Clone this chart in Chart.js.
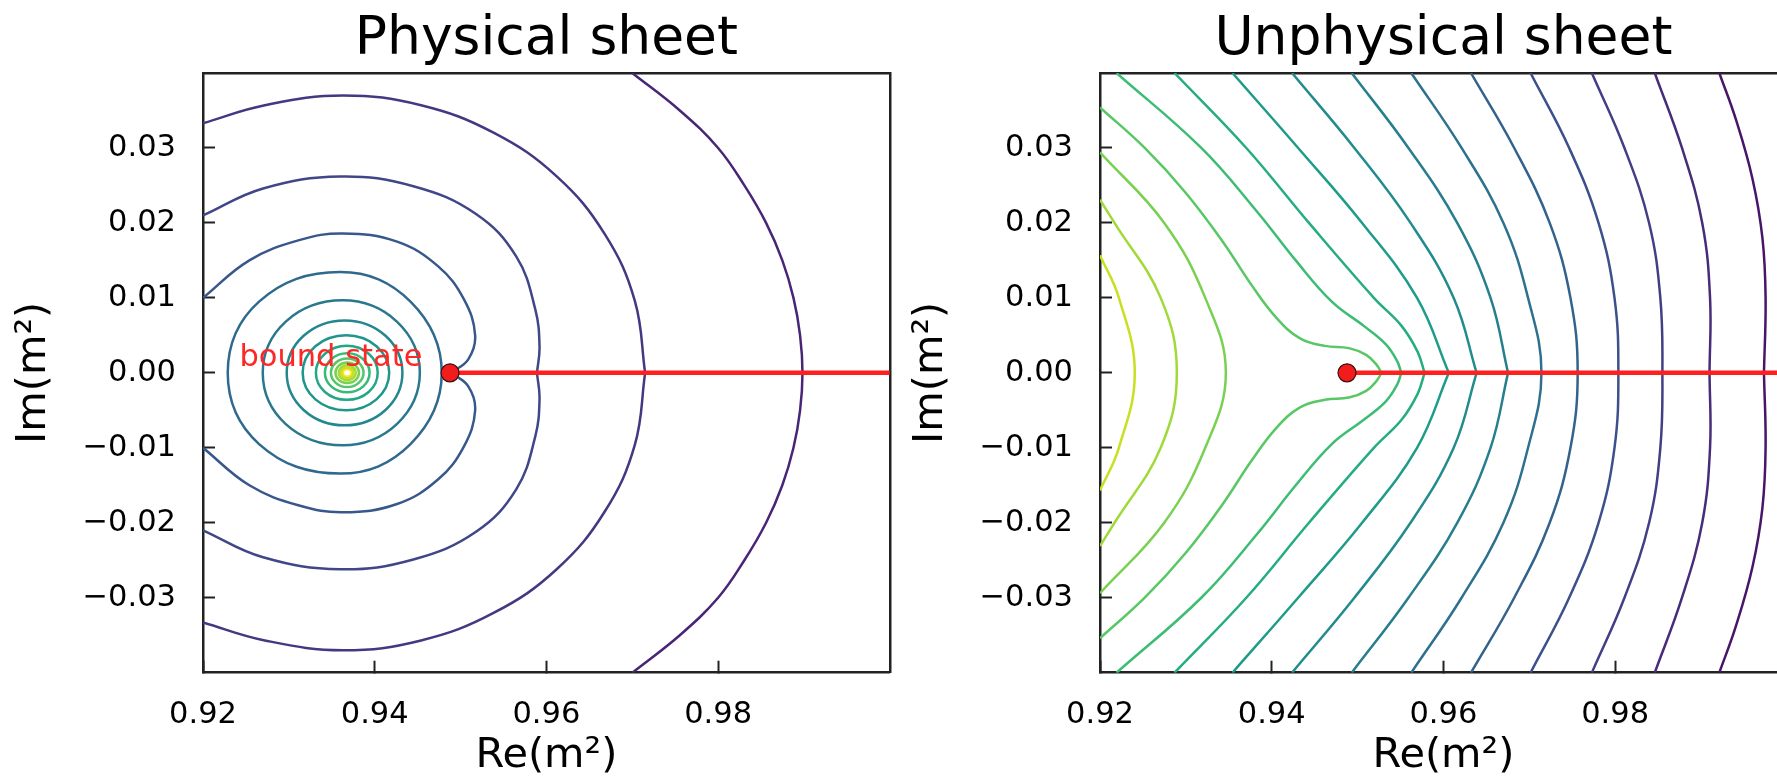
<!DOCTYPE html>
<html>
<head>
<meta charset="utf-8">
<script src="https://cdn.jsdelivr.net/npm/chart.js@4.4.1/dist/chart.umd.min.js"></script>
<style>
  html, body { margin: 0; padding: 0; background: #fff; overflow: hidden; }
  .panel { position: absolute; top: 0; width: 900px; height: 777px; }
  #physPanel { left: 0; }
  #unphysPanel { left: 897px; }
</style>
</head>
<body>
<div class="panel" id="physPanel"><canvas id="physChart" width="900" height="777"></canvas></div>
<div class="panel" id="unphysPanel"><canvas id="unphysChart" width="900" height="777"></canvas></div>
<script>
const xTicks = [0.92, 0.94, 0.96, 0.98];
const yTicks = [-0.03, -0.02, -0.01, 0, 0.01, 0.02, 0.03];
const threshold = 0.94877;
const boundLabel = { text: "bound state", x: 0.92424, y: 0.0009 };

// physical sheet: outer contour, top edge -> real axis (upper half)
const physOuter = [[0.9700, 0.040], [0.97554, 0.035], [0.9800, 0.030], [0.98306, 0.025], [0.98559, 0.020], [0.98748, 0.015], [0.98878, 0.010], [0.98955, 0.005], [0.98983, 0]];
// physical sheet: contours leaving through the left edge (upper halves)
const physSide = [
  [[0.92, 0.0333], [0.9272, 0.0357], [0.9363, 0.0370], [0.9454, 0.0357], [0.9539, 0.0320], [0.9612, 0.0262], [0.9668, 0.0185], [0.9703, 0.0096], [0.9715, 0]],
  [[0.92, 0.0210], [0.9270, 0.0246], [0.9360, 0.0262], [0.9445, 0.0249], [0.9518, 0.0212], [0.9565, 0.0155], [0.9587, 0.0085], [0.9592, 0.0035], [0.9589, 0]],
  [[0.92, 0.0100], [0.9254, 0.0150], [0.9312, 0.0177], [0.9363, 0.0186], [0.9426, 0.0175], [0.9474, 0.0142], [0.9504, 0.0098], [0.9517, 0.0050], [0.9509, 0.0018], [0.9489, 0]]
];
// physical sheet: closed rings round the pole (upper halves, left crossing -> right crossing)
const physRings = [
  [[0.92288, 0], [0.92653, 0.0095], [0.9360, 0.01344], [0.94417, 0.0095], [0.94781, 0]],
  [[0.92696, 0], [0.92964, 0.00684], [0.93626, 0.00967], [0.94258, 0.00684], [0.94526, 0]],
  [[0.92975, 0], [0.93172, 0.00495], [0.9365, 0.0070], [0.94126, 0.00495], [0.94323, 0]],
  [[0.93161, 0], [0.93309, 0.00354], [0.93668, 0.0050], [0.94021, 0.00354], [0.94169, 0]],
  [[0.93315, 0], [0.9342, 0.00255], [0.93675, 0.0036], [0.9393, 0.00255], [0.94035, 0]],
  [[0.9342, 0], [0.93496, 0.00184], [0.9368, 0.0026], [0.93864, 0.00184], [0.9394, 0]],
  [[0.9349, 0], [0.93546, 0.00134], [0.9368, 0.0019], [0.93814, 0.00134], [0.9387, 0]],
  [[0.93543, 0], [0.93583, 0.00097], [0.9368, 0.00137], [0.93777, 0.00097], [0.93817, 0]],
  [[0.9358, 0], [0.93609, 0.00071], [0.9368, 0.001], [0.93751, 0.00071], [0.9378, 0]],
  [[0.93608, 0], [0.93629, 0.00051], [0.9368, 0.00072], [0.93731, 0.00051], [0.93752, 0]],
  [[0.93628, 0], [0.93643, 0.00037], [0.9368, 0.00052], [0.93717, 0.00037], [0.93732, 0]]
];
const physColors = ["#482576", "#453781", "#404688", "#38588c", "#30698e", "#2a788e", "#24878e", "#1f968b",
                    "#22a884", "#38b977", "#54c568", "#7ad151", "#a2da37", "#cae11f", "#fde725"];

// unphysical sheet: contours that turn smoothly on the real axis (upper halves)
const unphysSmooth = [
  [[0.92, 0.0157], [0.9222, 0.0100], [0.92405, 0]],
  [[0.92, 0.0231], [0.92169, 0.0200], [0.92707, 0.0100], [0.92895, 0]],
  [[0.92, 0.0294], [0.92748, 0.0200], [0.93226, 0.0100], [0.93466, 0]]
];
// unphysical sheet: contours meeting the cut at an angle (upper halves)
const unphysCut = [
  [[0.92, 0.0354], [0.92521, 0.0300], [0.9300, 0.0240], [0.9343, 0.0175], [0.9376, 0.0118], [0.9405, 0.0074], [0.9433, 0.0046], [0.9462, 0.0036], [0.9490, 0.0033], [0.9510, 0.0024], [0.9522, 0.0011], [0.95279, 0]],
  [[0.92193, 0.04], [0.9318, 0.0300], [0.9383, 0.0215], [0.9428, 0.0150], [0.9470, 0.0095], [0.9508, 0.0062], [0.9533, 0.0038], [0.9546, 0.0016], [0.9551, 0]],
  [[0.92868, 0.04], [0.93704, 0.0300], [0.94434, 0.0200], [0.9519, 0.0100], [0.9551, 0.0063], [0.9570, 0.0028], [0.95781, 0]],
  [[0.93543, 0.04], [0.94308, 0.0300], [0.95053, 0.0200], [0.95693, 0.0100], [0.96063, 0]],
  [[0.94237, 0.04], [0.94963, 0.0300], [0.95617, 0.0200], [0.9612, 0.0100], [0.96387, 0]],
  [[0.94932, 0.04], [0.95593, 0.0300], [0.96161, 0.0200], [0.96549, 0.0100], [0.96753, 0]]
];
// unphysical sheet: outer arcs, rounded on the axis (upper halves)
const unphysArcs = [
  [[0.95626, 0.04], [0.96212, 0.0300], [0.96699, 0.0200], [0.96986, 0.0100], [0.97142, 0]],
  [[0.96321, 0.04], [0.96825, 0.0300], [0.97238, 0.0200], [0.9748, 0.0100], [0.97564, 0]],
  [[0.97015, 0.04], [0.97465, 0.0300], [0.97807, 0.0200], [0.97993, 0.0100], [0.98038, 0]],
  [[0.97729, 0.04], [0.98109, 0.0300], [0.98396, 0.0200], [0.98527, 0.0100], [0.98551, 0]]
];
// unphysical sheet: outermost arcs with a small dent at the cut (upper halves)
const unphysDent = [
  [[0.98462, 0.04], [0.98779, 0.0300], [0.99015, 0.0200], [0.99106, 0.0100], [0.99100, 0]],
  [[0.99214, 0.04], [0.99407, 0.0338], [0.99600, 0.0259], [0.99716, 0.0180], [0.99753, 0.0100], [0.99734, 0]]
];
const unphysColors = ["#c8e020", "#a0da39", "#7ad151", "#58c765", "#3dbc74", "#25ac82", "#1e9c89", "#228c8d",
                      "#277f8e", "#2d718e", "#33638d", "#3c508b", "#423f85", "#472c7a", "#481668"];

const FONT = "DejaVu Sans";

function mirror(pts) {
  return pts.map(([x, y]) => [x, -y]);
}

// upper half followed by the mirrored lower half, one continuous path
function fullPath(upper) {
  return upper.concat(mirror(upper.slice(0, -1)).reverse());
}

function lineSet(data, color, extra) {
  return Object.assign({
    data: data,
    showLine: true,
    borderColor: color,
    borderWidth: 2.5,
    pointRadius: 0,
    tension: 0.4,
    fill: false,
    order: 3
  }, extra || {});
}

function halves(pts, color) {
  return [lineSet(pts, color), lineSet(mirror(pts), color)];
}

// closed rings: wrap the loop and hide the two padding segments
function ringSets(rings, colors) {
  return rings.map((upper, i) => {
    const loop = upper.concat(mirror(upper.slice(1, -1)).reverse());
    const n = loop.length;
    const data = [loop[n - 1]].concat(loop, [loop[0], loop[1]]);
    const last = data.length - 1;
    const color = colors[i];
    return lineSet(data, color, {
      segment: {
        borderColor: c => (c.p0DataIndex === 0 || c.p1DataIndex === last) ? "rgba(0,0,0,0)" : color
      }
    });
  });
}

function cutSets() {
  return [
    { data: [[threshold, 0]], pointRadius: 9, pointBackgroundColor: "#f21c1c", pointBorderColor: "#3a1010",
      pointBorderWidth: 1.2, showLine: false, order: 0 },
    lineSet([[threshold, 0], [1.0, 0]], "#ff1f1f", { borderWidth: 4.5, tension: 0, order: 1 })
  ];
}

const titlePlugin = {
  id: "sheetTitle",
  afterDraw(chart, args, opts) {
    const { ctx, chartArea } = chart;
    ctx.save();
    ctx.font = "53.5px '" + FONT + "'";
    ctx.fillStyle = "#000";
    ctx.textAlign = "center";
    ctx.textBaseline = "alphabetic";
    ctx.fillText(opts.text, (chartArea.left + chartArea.right) / 2, 54);
    ctx.restore();
  }
};

const labelPlugin = {
  id: "boundLabel",
  afterDatasetsDraw(chart) {
    const { ctx, scales: { x, y } } = chart;
    ctx.save();
    ctx.font = "30.5px '" + FONT + "'";
    ctx.fillStyle = "#ff2626";
    ctx.textBaseline = "alphabetic";
    ctx.textAlign = "left";
    ctx.fillText(boundLabel.text, x.getPixelForValue(boundLabel.x), y.getPixelForValue(boundLabel.y));
    ctx.restore();
  }
};

function fmtY(v) {
  if (v === 0) return "0.00";
  return (v < 0 ? "\u2212" : "") + Math.abs(v).toFixed(2);
}

function frameAxis(position, extra) {
  return Object.assign({
    type: "linear",
    position: position,
    ticks: { display: false },
    grid: { drawOnChartArea: false, drawTicks: false },
    border: { color: "#222", width: 2.5 }
  }, extra);
}

function makeChart(id, title, datasets, plugins) {
  return new Chart(document.getElementById(id), {
    type: "scatter",
    data: { datasets: datasets },
    plugins: [titlePlugin].concat(plugins),
    options: {
      responsive: false,
      animation: false,
      elements: { line: { capBezierPoints: false } },
      layout: { padding: { left: 0, right: 7, top: 73, bottom: 0 } },
      plugins: {
        legend: { display: false },
        tooltip: { enabled: false },
        title: { display: false },
        sheetTitle: { text: title }
      },
      scales: {
        x: {
          type: "linear", position: "bottom", min: 0.92, max: 1.0,
          afterFit: s => { s.height = 104.3; },
          afterBuildTicks: s => { s.ticks = xTicks.map(v => ({ value: v })); },
          ticks: { color: "#000", font: { family: FONT, size: 30.5 }, padding: 36, maxRotation: 0, autoSkip: false,
                   callback: v => v.toFixed(2) },
          grid: { drawOnChartArea: false, tickLength: -12, tickColor: "#222", tickWidth: 2 },
          border: { color: "#222", width: 2.5 },
          title: { display: true, text: "Re(m\u00b2)", color: "#000",
                   font: { family: FONT, size: 41.5, lineHeight: 1.0 }, padding: { top: 0, bottom: 0 } }
        },
        y: {
          type: "linear", position: "left", min: -0.04, max: 0.04,
          afterFit: s => { s.width = 203; },
          afterBuildTicks: s => { s.ticks = yTicks.map(v => ({ value: v })); },
          ticks: { color: "#000", font: { family: FONT, size: 30.5 }, padding: 39, autoSkip: false, callback: fmtY },
          grid: { drawOnChartArea: false, tickLength: -12, tickColor: "#222", tickWidth: 2 },
          border: { color: "#222", width: 2.5 },
          title: { display: true, text: "Im(m\u00b2)", color: "#000",
                   font: { family: FONT, size: 41.5, lineHeight: 1.0 }, padding: { top: 13, bottom: 0 } }
        },
        x2: frameAxis("top", { min: 0.92, max: 1.0, afterFit: s => { s.height = 0; } }),
        y2: frameAxis("right", { min: -0.04, max: 0.04, afterFit: s => { s.width = 0; } })
      }
    }
  });
}

const physSets = cutSets().concat(
  [lineSet(fullPath(physOuter), physColors[0])],
  ...physSide.map((pts, i) => halves(pts, physColors[i + 1])),
  ringSets(physRings, physColors.slice(4))
);

const unphysSets = cutSets().concat(
  unphysSmooth.map((pts, i) => lineSet(fullPath(pts), unphysColors[i])),
  ...unphysCut.map((pts, i) => halves(pts, unphysColors[i + 3])),
  unphysArcs.map((pts, i) => lineSet(fullPath(pts), unphysColors[i + 9])),
  ...unphysDent.map((pts, i) => halves(pts, unphysColors[i + 13]))
);

makeChart("physChart", "Physical sheet", physSets, [labelPlugin]);
makeChart("unphysChart", "Unphysical sheet", unphysSets, []);
</script>
</body>
</html>
